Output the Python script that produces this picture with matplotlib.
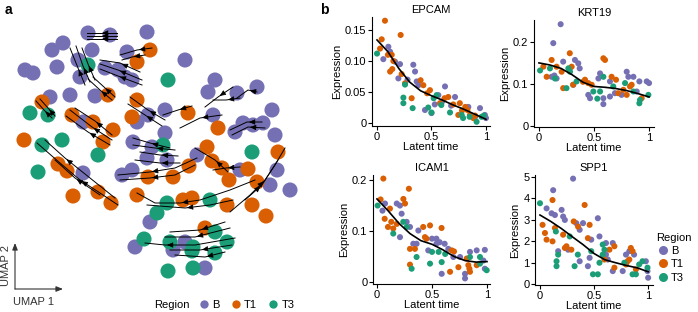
import numpy as np
import matplotlib
matplotlib.use("Agg")
import matplotlib.pyplot as plt
from matplotlib.lines import Line2D

plt.rcParams['font.family'] = ['Liberation Sans', 'DejaVu Sans']
plt.rcParams['font.size'] = 8

COLORS = {"B": "#7570b3", "T1": "#d95f02", "T3": "#1b9e77"}
REGIONS = ["B", "T1", "T3"]

# ---- panel a: UMAP embedding (image-like coords, y grows downwards) ----
umap_b = [(88, 33), (110, 35), (147, 32), (52, 50), (63, 43), (92, 50), (25, 70), (33, 73),
          (57, 67), (78, 60), (80, 77), (105, 68), (118, 70), (125, 77), (132, 80), (127, 52),
          (185, 60), (50, 97), (70, 95), (95, 96), (165, 110), (148, 115), (137, 122),
          (215, 80), (208, 92), (237, 93), (257, 87), (272, 110), (213, 115), (243, 123),
          (253, 125), (263, 123), (235, 132), (275, 135), (83, 122), (133, 142), (152, 147),
          (165, 133), (147, 158), (167, 160), (197, 155), (122, 175), (132, 170), (83, 173),
          (240, 170), (277, 170), (270, 185), (290, 190), (150, 222), (135, 247), (173, 250),
          (185, 242), (205, 268)]
umap_t1 = [(150, 50), (137, 62), (108, 95), (42, 102), (137, 100), (132, 117), (188, 113),
           (72, 115), (93, 122), (113, 130), (103, 142), (24, 140), (218, 128), (207, 147),
           (212, 161), (222, 168), (229, 180), (248, 169), (278, 152), (189, 166), (173, 177),
           (148, 177), (58, 164), (67, 171), (98, 192), (73, 196), (111, 203), (137, 195),
           (183, 200), (192, 198), (227, 205), (252, 205), (266, 216), (257, 182), (205, 228)]
umap_t3 = [(88, 65), (168, 80), (30, 113), (48, 115), (42, 145), (62, 140), (98, 155),
           (38, 172), (163, 145), (252, 152), (210, 200), (167, 203), (157, 213), (144, 239),
           (170, 242), (193, 247), (215, 232), (227, 242), (215, 253), (168, 271), (193, 268),
           (192, 251)]

# velocity streamlines, listed from tail to head
stream_lines = [
    [(117, 33), (100, 33), (87, 33)],
    [(117, 36), (100, 36), (87, 36)],
    [(117, 39), (100, 39), (87, 39)],
    [(152, 48), (137, 50), (120, 55)],
    [(145, 55), (132, 57), (122, 60)],
    [(85, 85), (78, 68), (70, 48)],
    [(90, 82), (83, 66), (76, 46)],
    [(95, 80), (88, 64), (82, 48)],
    [(140, 72), (120, 63), (100, 60)],
    [(142, 80), (118, 70), (100, 64)],
    [(142, 85), (118, 76), (100, 69)],
    [(112, 100), (100, 90), (88, 79)],
    [(115, 97), (104, 87), (93, 77)],
    [(55, 116), (48, 108), (40, 99)],
    [(52, 118), (44, 110), (36, 101)],
    [(112, 140), (92, 127), (70, 110)],
    [(110, 145), (88, 132), (66, 116)],
    [(112, 135), (95, 121), (75, 108)],
    [(165, 120), (148, 110), (130, 97)],
    [(162, 126), (145, 115), (128, 104)],
    [(192, 106), (178, 110), (163, 115)],
    [(222, 115), (200, 118), (180, 128)],
    [(233, 87), (218, 97), (205, 107)],
    [(240, 98), (226, 100), (213, 100)],
    [(257, 92), (248, 90), (237, 98)],
    [(262, 122), (247, 122), (230, 130)],
    [(265, 128), (248, 127), (232, 135)],
    [(118, 205), (100, 193), (80, 180), (60, 163), (37, 143)],
    [(115, 198), (90, 178), (65, 158), (45, 140)],
    [(100, 195), (75, 178), (55, 160)],
    [(170, 148), (150, 143), (133, 138)],
    [(175, 150), (155, 148), (133, 145)],
    [(178, 156), (160, 155), (140, 152)],
    [(180, 163), (160, 163), (135, 160)],
    [(197, 158), (175, 168), (150, 172), (118, 175)],
    [(195, 165), (175, 175), (150, 178), (120, 180)],
    [(228, 172), (215, 160), (195, 148)],
    [(240, 167), (226, 168), (213, 170)],
    [(255, 180), (230, 190), (200, 200), (180, 203), (155, 203), (137, 193)],
    [(233, 200), (210, 205), (185, 208), (147, 205)],
    [(230, 212), (250, 195), (265, 180), (275, 165), (285, 148)],
    [(245, 200), (262, 185), (278, 160)],
    [(235, 238), (195, 245), (165, 245), (145, 243)],
    [(230, 228), (195, 237), (165, 237)],
    [(225, 222), (200, 230), (170, 232)],
    [(232, 245), (200, 250), (170, 250)],
    [(225, 252), (205, 257), (175, 255)],
]

# ---- panel b: expression along latent time ----
curve_t = [0.0, 0.1, 0.2, 0.3, 0.4, 0.5, 0.6, 0.7, 0.8, 0.9, 1.0]
epcam_curve = [0.134, 0.115, 0.088, 0.066, 0.052, 0.044, 0.037, 0.029, 0.022, 0.014, 0.006]
krt19_curve = [0.150, 0.145, 0.137, 0.122, 0.104, 0.094, 0.092, 0.089, 0.084, 0.077, 0.069]
icam1_curve = [0.163, 0.140, 0.115, 0.095, 0.081, 0.074, 0.063, 0.050, 0.042, 0.039, 0.040]
spp1_curve = [3.22, 2.92, 2.58, 2.20, 1.83, 1.42, 1.13, 0.99, 0.86, 0.75, 0.57]

epcam_b = [(0.104, 0.123), (0.058, 0.103), (0.12, 0.115), (0.165, 0.099), (0.196, 0.072),
           (0.211, 0.095), (0.333, 0.094), (0.349, 0.083), (0.364, 0.067), (0.38, 0.061),
           (0.44, 0.021), (0.50, 0.016), (0.563, 0.045), (0.624, 0.059), (0.716, 0.042),
           (0.838, 0.026), (0.945, 0.024), (0.99, 0.013), (1.0, 0.008), (0.60, 0.035),
           (0.68, 0.028), (0.90, 0.010), (0.28, 0.070), (0.53, 0.030)]
epcam_t1 = [(0.073, 0.165), (0.043, 0.135), (0.028, 0.120), (0.217, 0.142), (0.135, 0.110),
            (0.12, 0.083), (0.14, 0.087), (0.226, 0.079), (0.40, 0.069), (0.425, 0.061),
            (0.318, 0.040), (0.486, 0.053), (0.654, 0.042), (0.76, 0.032), (0.81, 0.026),
            (0.83, 0.021), (0.853, 0.013), (0.884, 0.008), (0.746, 0.013), (0.578, 0.032),
            (0.257, 0.064), (0.15, 0.100), (0.46, 0.048), (0.62, 0.040), (0.70, 0.030),
            (0.78, 0.020), (0.90, 0.012), (0.10, 0.110)]
epcam_t3 = [(0.0, 0.112), (0.257, 0.062), (0.242, 0.041), (0.242, 0.032), (0.327, 0.024),
            (0.50, 0.017), (0.547, 0.045), (0.59, 0.029), (0.67, 0.017), (0.777, 0.013),
            (0.914, 0.002), (0.96, 0.010), (0.79, 0.008), (0.52, 0.040), (0.85, 0.010),
            (0.98, 0.012), (0.47, 0.025)]

krt19_b = [(0.197, 0.242), (0.13, 0.197), (0.115, 0.117), (0.16, 0.113), (0.22, 0.153),
           (0.327, 0.157), (0.357, 0.149), (0.37, 0.137), (0.28, 0.137), (0.312, 0.098),
           (0.448, 0.074), (0.464, 0.066), (0.54, 0.113), (0.555, 0.125), (0.585, 0.066),
           (0.585, 0.052), (0.645, 0.106), (0.69, 0.078), (0.797, 0.129), (0.812, 0.117),
           (0.858, 0.117), (0.888, 0.082), (0.912, 0.106), (0.979, 0.106), (1.0, 0.102),
           (0.645, 0.070), (0.75, 0.074), (0.14, 0.120)]
krt19_t1 = [(0.04, 0.141), (0.07, 0.117), (0.115, 0.157), (0.16, 0.141), (0.206, 0.129),
            (0.22, 0.090), (0.28, 0.173), (0.297, 0.141), (0.31, 0.098), (0.418, 0.110),
            (0.448, 0.102), (0.479, 0.098), (0.585, 0.161), (0.60, 0.157), (0.66, 0.117),
            (0.72, 0.078), (0.767, 0.086), (0.827, 0.094), (0.842, 0.098), (0.797, 0.074),
            (0.933, 0.066), (0.40, 0.105), (0.70, 0.110)]
krt19_t3 = [(0.01, 0.132), (0.10, 0.137), (0.145, 0.113), (0.25, 0.090), (0.267, 0.137),
            (0.282, 0.129), (0.342, 0.106), (0.494, 0.082), (0.555, 0.082), (0.585, 0.117),
            (0.675, 0.094), (0.782, 0.102), (0.858, 0.082), (0.912, 0.054), (0.918, 0.062),
            (0.994, 0.074), (0.53, 0.065)]

icam1_b = [(0.073, 0.154), (0.18, 0.154), (0.209, 0.150), (0.224, 0.134), (0.209, 0.088),
           (0.27, 0.118), (0.30, 0.108), (0.33, 0.075), (0.36, 0.075), (0.376, 0.101),
           (0.50, 0.085), (0.54, 0.085), (0.57, 0.078), (0.615, 0.075), (0.648, 0.065),
           (0.588, 0.016), (0.694, 0.049), (0.755, 0.049), (0.80, 0.016), (0.80, 0.007),
           (0.845, 0.059), (0.906, 0.062), (0.98, 0.063), (0.967, 0.042), (0.98, 0.026),
           (0.466, 0.062), (0.54, 0.075), (0.05, 0.140)]
icam1_t1 = [(0.058, 0.203), (0.033, 0.162), (0.07, 0.124), (0.118, 0.144), (0.13, 0.118),
            (0.148, 0.105), (0.24, 0.163), (0.255, 0.154), (0.29, 0.183), (0.30, 0.065),
            (0.345, 0.065), (0.30, 0.034), (0.42, 0.108), (0.436, 0.088), (0.482, 0.111),
            (0.45, 0.085), (0.587, 0.106), (0.679, 0.062), (0.664, 0.020), (0.74, 0.029),
            (0.815, 0.046), (0.83, 0.033), (0.84, 0.026), (0.845, 0.020), (0.906, 0.033),
            (0.10, 0.108), (0.18, 0.114), (0.70, 0.060)]
icam1_t3 = [(0.006, 0.150), (0.148, 0.095), (0.239, 0.118), (0.27, 0.108), (0.315, 0.026),
            (0.36, 0.049), (0.50, 0.059), (0.56, 0.059), (0.482, 0.036), (0.588, 0.039),
            (0.845, 0.049), (0.936, 0.049), (0.936, 0.036), (0.997, 0.023), (0.62, 0.055)]

spp1_b = [(0.061, 3.53), (0.122, 4.38), (0.107, 3.30), (0.138, 3.22), (0.20, 3.46),
          (0.214, 3.15), (0.23, 2.99), (0.306, 4.92), (0.336, 2.84), (0.367, 2.53),
          (0.398, 2.84), (0.168, 1.53), (0.26, 1.60), (0.367, 1.06), (0.443, 0.83),
          (0.459, 1.22), (0.535, 3.07), (0.55, 2.22), (0.61, 1.91), (0.673, 1.91),
          (0.61, 1.37), (0.627, 1.14), (0.673, 0.60), (0.765, 0.60), (0.795, 1.37),
          (0.826, 1.53), (0.87, 1.37), (0.979, 1.06), (0.994, 0.60), (1.0, 0.29),
          (0.474, 2.07)]
spp1_t1 = [(0.024, 2.76), (0.046, 2.38), (0.061, 2.07), (0.116, 1.99), (0.116, 3.92),
           (0.138, 2.61), (0.214, 2.30), (0.23, 1.68), (0.245, 1.76), (0.29, 1.60),
           (0.312, 2.92), (0.352, 2.68), (0.413, 3.69), (0.443, 2.14), (0.459, 2.76),
           (0.642, 1.60), (0.688, 1.76), (0.596, 1.14), (0.688, 0.76), (0.795, 0.91),
           (0.81, 1.06), (0.856, 1.53), (0.84, 1.68), (0.887, 0.68), (0.826, 1.14)]
spp1_t3 = [(0.0, 3.77), (0.147, 2.45), (0.153, 1.06), (0.153, 0.83), (0.168, 1.37),
           (0.275, 2.22), (0.32, 0.83), (0.35, 1.37), (0.474, 1.53), (0.49, 0.45),
           (0.535, 0.45), (0.55, 0.99), (0.58, 1.84), (0.596, 1.60), (0.58, 1.37),
           (0.78, 0.99), (0.856, 0.45), (0.887, 0.45), (0.917, 0.91), (0.948, 1.06),
           (0.994, 0.76)]


def draw_stream(ax, pts):
    pts = np.array(pts, dtype=float)
    ax.plot(pts[:, 0], pts[:, 1], color="black", lw=0.7, zorder=3)
    k = len(pts) // 2
    a, b = pts[k - 1], pts[k]
    d = b - a
    d = d / np.hypot(*d)
    ax.annotate("", xy=b - 2 * d, xytext=b - 5 * d,
                arrowprops=dict(arrowstyle="-|>,head_length=0.45,head_width=0.2",
                                color="black", lw=0.5, shrinkA=0, shrinkB=0),
                zorder=4)


fig = plt.figure(figsize=(6.98, 3.12), dpi=100)

# ---------- panel a ----------
ax = fig.add_axes([0, 0, 300 / 698, 1])
ax.set_xlim(0, 300)
ax.set_ylim(312, 0)
ax.axis("off")
for reg, pts in zip(REGIONS, [umap_b, umap_t1, umap_t3]):
    pts = np.array(pts)
    ax.scatter(pts[:, 0], pts[:, 1], s=118, color=COLORS[reg], edgecolors="none", zorder=2)
for line in stream_lines:
    draw_stream(ax, line)

ax.annotate("", xy=(15, 243), xytext=(15, 289),
            arrowprops=dict(arrowstyle="-|>,head_length=0.5,head_width=0.2",
                            color="#333333", lw=0.8, shrinkA=0, shrinkB=0))
ax.annotate("", xy=(63, 289), xytext=(15, 289),
            arrowprops=dict(arrowstyle="-|>,head_length=0.5,head_width=0.2",
                            color="#333333", lw=0.8, shrinkA=0, shrinkB=0))
ax.text(13, 302, "UMAP 1", ha="left", va="center", fontsize=8, color="#333333")
ax.text(6, 266, "UMAP 2", ha="center", va="center", rotation=90, fontsize=8, color="#333333")

fig.text(5 / 698, 1 - 10 / 312, "a", fontsize=10, fontweight="bold", va="center")
fig.text(320 / 698, 1 - 10 / 312, "b", fontsize=10, fontweight="bold", va="center")

handles = [Line2D([], [], marker="o", linestyle="none", markersize=6,
                  markerfacecolor=COLORS[r], markeredgecolor="none") for r in REGIONS]
fig.text(154 / 698, 1 - 305 / 312, "Region", ha="left", va="center", fontsize=8)
leg = fig.legend(handles, REGIONS, loc="center left", ncol=3, frameon=False,
                 bbox_to_anchor=(192 / 698, 1 - 305 / 312), handletextpad=0.1,
                 columnspacing=0.9, handlelength=1.2, borderpad=0, fontsize=8)

# ---------- panel b ----------
panels = [
    ("EPCAM", [372, 17, 490, 126], (-0.046, 1.037), (-0.0048, 0.171), [0, 0.05, 0.10, 0.15],
     ["0", "0.05", "0.10", "0.15"], epcam_b, epcam_t1, epcam_t3, epcam_curve),
    ("KRT19", [534, 20, 654, 127], (-0.045, 1.045), (-0.0024, 0.252), [0, 0.1, 0.2],
     ["0", "0.1", "0.2"], krt19_b, krt19_t1, krt19_t3, krt19_curve),
    ("ICAM1", [373, 175, 490, 284], (-0.036, 1.027), (-0.004, 0.21), [0, 0.1, 0.2],
     ["0", "0.1", "0.2"], icam1_b, icam1_t1, icam1_t3, icam1_curve),
    ("SPP1", [535, 175, 653, 285], (-0.046, 1.045), (-0.05, 5.09), [0, 1, 2, 3, 4, 5],
     ["0", "1", "2", "3", "4", "5"], spp1_b, spp1_t1, spp1_t3, spp1_curve),
]

for name, box, xl, yl, yt, ytl, pb, pt1, pt3, curve in panels:
    l, t, r, b = box
    axb = fig.add_axes([l / 698, 1 - b / 312, (r - l) / 698, (b - t) / 312])
    for reg, pts in zip(REGIONS, [pb, pt1, pt3]):
        pts = np.array(pts)
        axb.scatter(pts[:, 0], pts[:, 1], s=19, color=COLORS[reg], edgecolors="none", zorder=2)
    axb.plot(curve_t, curve, color="black", lw=1.2, zorder=3)
    axb.set_xlim(*xl)
    axb.set_ylim(*yl)
    axb.set_xticks([0, 0.5, 1])
    axb.set_xticklabels(["0", "0.5", "1"])
    axb.set_yticks(yt)
    axb.set_yticklabels(ytl)
    axb.set_title(name, fontsize=8, pad=3)
    axb.set_xlabel("Latent time", fontsize=8, labelpad=0)
    axb.set_ylabel("Expression", fontsize=8, labelpad=2)
    for s in ["top", "right"]:
        axb.spines[s].set_visible(False)
    for s in ["left", "bottom"]:
        axb.spines[s].set_linewidth(0.8)
    axb.tick_params(length=3, width=0.8, pad=1, labelsize=8)

handles2 = [Line2D([], [], marker="o", linestyle="none", markersize=6.5,
                   markerfacecolor=COLORS[r], markeredgecolor="none") for r in REGIONS]
leg2 = fig.legend(handles2, REGIONS, title="Region", loc="upper left", frameon=False,
                  bbox_to_anchor=(651 / 698, 1 - 227 / 312), handletextpad=0.1,
                  handlelength=1.2, labelspacing=0.3, borderpad=0, fontsize=8,
                  title_fontsize=8)
leg2._legend_box.align = "left"

fig.savefig("out.png", dpi=100)
